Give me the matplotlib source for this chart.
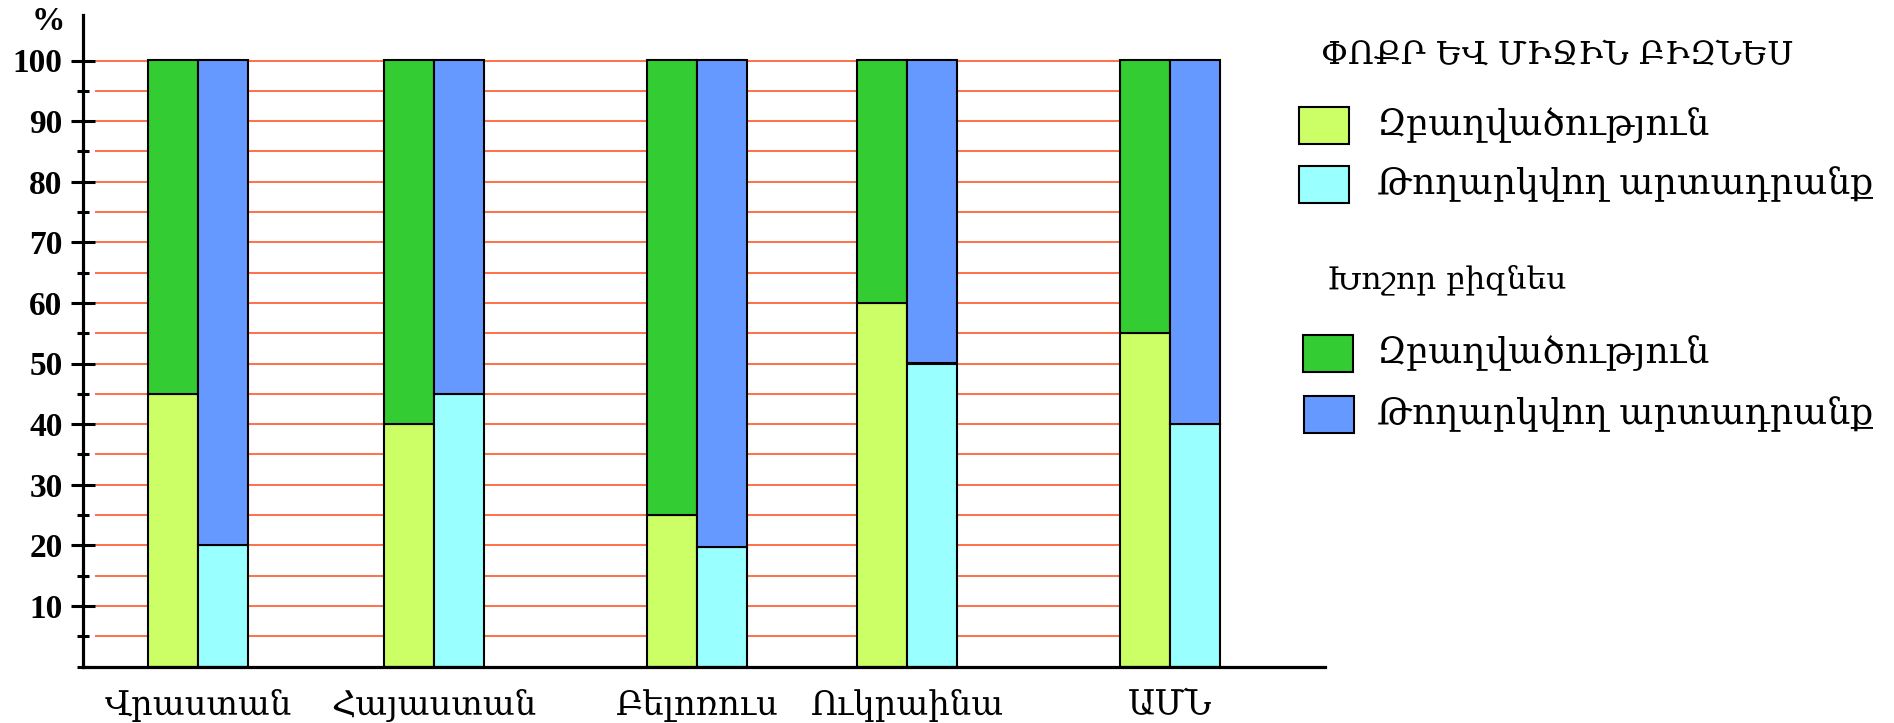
import matplotlib
matplotlib.use('Agg')
import matplotlib.pyplot as plt
from matplotlib.patches import Rectangle

# ---- data ----
countries = ['Վրաստան', 'Հայաստան', 'Բելոռուս', 'Ուկրաինա', 'ԱՄՆ']
sme_employment = [45, 40, 25, 60, 55]
sme_output = [20, 45, 19.7, 50, 40]
large_employment = [55, 60, 75, 40, 45]
large_output = [80, 55, 80.3, 50, 60]

title_sme = 'ՓՈՔՐ ԵՎ ՄԻՋԻՆ ԲԻԶՆԵՍ'
title_large = 'Խոշոր բիզնես'
label_employment = 'Զբաղվածություն'
label_output = 'Թողարկվող արտադրանք'
y_major = [10, 20, 30, 40, 50, 60, 70, 80, 90, 100]
y_grid = [5, 10, 15, 20, 25, 30, 35, 40, 45, 50, 55, 60, 65, 70, 75, 80, 85, 90, 95, 100]

# ---- layout (in bar-width units) ----
group_x = [2.31, 7.03, 12.29, 16.49, 21.74]
bar_w = 1.0

c_sme_emp = '#CCFF66'
c_sme_out = '#99FFFF'
c_lg_emp = '#33CC33'
c_lg_out = '#6699FF'
grid_c = '#FF7048'

plt.rcParams['font.family'] = ['DejaVu Serif', 'DejaVu Sans']

W, H = 1894, 723
fig = plt.figure(figsize=(W / 100, H / 100), dpi=100)
ax_left, ax_right, ax_bottom, ax_top = 82.7, 1325, 666.5, 15
ax = fig.add_axes([ax_left / W, 1 - ax_bottom / H, (ax_right - ax_left) / W, (ax_bottom - ax_top) / H])
ax.set_xlim(0, (ax_right - ax_left) / 50)
ax.set_ylim(0, (ax_bottom - ax_top) / 6.06)

# gridlines
ax.hlines(y_grid, 0.24, 22.75, color=grid_c, lw=1.4, zorder=1)

left_x = [g - bar_w / 2 for g in group_x]
right_x = [g + bar_w / 2 for g in group_x]
kw = dict(width=bar_w, edgecolor='black', linewidth=1.5, zorder=2)
ax.bar(left_x, sme_employment, color=c_sme_emp, **kw)
ax.bar(left_x, large_employment, bottom=sme_employment, color=c_lg_emp, **kw)
ax.bar(right_x, sme_output, color=c_sme_out, **kw)
ax.bar(right_x, large_output, bottom=sme_output, color=c_lg_out, **kw)

for s in ['top', 'right']:
    ax.spines[s].set_visible(False)
for s in ['left', 'bottom']:
    ax.spines[s].set_linewidth(2.3)
    ax.spines[s].set_zorder(3)

ax.set_yticks(y_major)
ax.set_yticks([0, 5, 15, 25, 35, 45, 55, 65, 75, 85, 95], minor=True)
ax.tick_params(axis='y', which='major', direction='inout', length=17, width=2.2, pad=6)
ax.tick_params(axis='y', which='minor', direction='inout', length=8.6, width=2.2)
for lab in ax.get_yticklabels():
    lab.set_fontfamily('Liberation Serif')
    lab.set_fontweight('bold')
    lab.set_fontsize(24)

ax.set_xticks(group_x)
ax.set_xticklabels(countries, fontsize=24.3)
ax.tick_params(axis='x', length=0, pad=16)

fig.text(48.5 / W, 1 - 22 / H, '%', family='Liberation Serif', weight='bold', fontsize=24,
         ha='center', va='center')

# ---- legend ----
fig.text(1321 / W, 1 - 55 / H, title_sme, fontsize=23.1, ha='left', va='center')
fig.text(1327 / W, 1 - 280 / H, title_large, fontsize=22.5, ha='left', va='center')
boxes = [
    (1299, 107, 1349, 144, c_sme_emp, label_employment),
    (1299, 166, 1349, 203, c_sme_out, label_output),
    (1303, 335, 1353, 372, c_lg_emp, label_employment),
    (1304, 396, 1354, 433, c_lg_out, label_output),
]
for x0, y0, x1, y1, col, txt in boxes:
    fig.add_artist(Rectangle((x0 / W, 1 - y1 / H), (x1 - x0) / W, (y1 - y0) / H,
                             transform=fig.transFigure, facecolor=col, edgecolor='black', lw=1.5))
    fig.text(1377 / W, 1 - ((y0 + y1) / 2) / H, txt, fontsize=26, ha='left', va='center')

fig.savefig('out.png', dpi=100)
